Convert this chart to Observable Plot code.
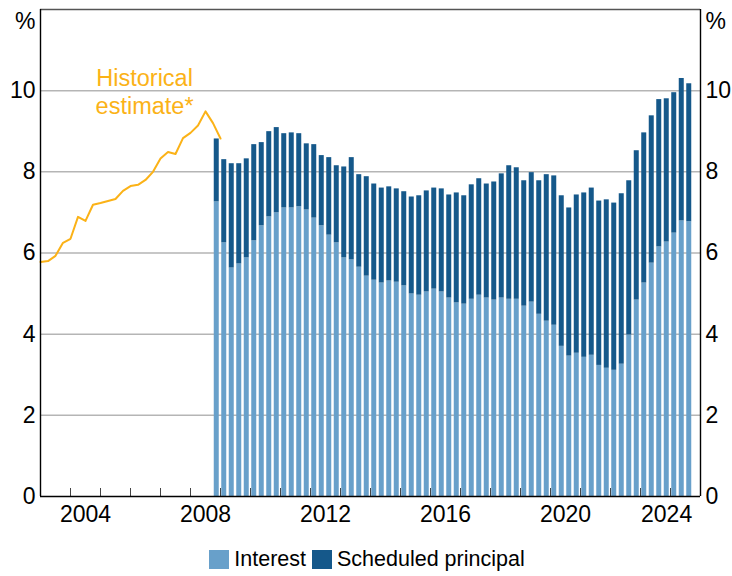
<!DOCTYPE html>
<html><head><meta charset="utf-8">
<script src="https://cdn.jsdelivr.net/npm/d3@7"></script>
<script src="https://cdn.jsdelivr.net/npm/@observablehq/plot@0.6"></script>
<style>
body{margin:0;background:#fff;font-family:"Liberation Sans",Arial,sans-serif;}
#legend{display:flex;justify-content:center;align-items:center;height:38px;font-size:21.5px;color:#000;padding-left:8px;box-sizing:border-box;width:732px}
.sw{width:20px;height:19px;display:inline-block;margin-right:5px}
.item{display:flex;align-items:center;margin-right:6px}
</style></head><body><div id="chart"></div><div id="legend"></div>
<script>
// Quarterly data, 2008 Q4 to 2024 Q3 (bars)
const barStart = {year: 2008, quarter: 4};
const interest = [7.26,6.25,5.63,5.73,5.88,6.30,6.67,6.89,6.99,7.11,7.11,7.14,7.06,6.86,6.67,6.44,
  6.25,5.88,5.83,5.65,5.43,5.33,5.26,5.31,5.28,5.19,4.99,4.96,5.04,5.11,5.04,4.89,
  4.77,4.74,4.86,4.96,4.89,4.84,4.89,4.86,4.86,4.69,4.79,4.49,4.32,4.22,3.70,3.46,
  3.53,3.43,3.48,3.23,3.16,3.11,3.26,3.98,4.84,5.26,5.75,6.15,6.27,6.49,6.79,6.77];
const total = [8.81,8.30,8.20,8.20,8.32,8.67,8.72,8.99,9.09,8.94,8.96,8.94,8.69,8.67,8.40,8.35,
  8.15,8.12,8.35,7.93,7.88,7.70,7.60,7.63,7.58,7.51,7.38,7.41,7.53,7.60,7.58,7.43,
  7.48,7.41,7.68,7.83,7.70,7.75,7.95,8.15,8.10,7.78,7.98,7.78,7.93,7.90,7.41,7.11,
  7.43,7.48,7.60,7.28,7.31,7.23,7.46,7.78,8.52,8.96,9.38,9.78,9.80,9.95,10.30,10.17];
// Historical estimate, 2002 Q4 to 2008 Q4 (line)
const histStart = {year: 2002, quarter: 4};
const historical = [5.78,5.80,5.93,6.25,6.35,6.89,6.79,7.19,7.23,7.28,7.33,7.53,7.65,7.68,7.80,8.00,
  8.33,8.49,8.44,8.83,8.96,9.14,9.49,9.20,8.82];
const yTicks = [0,2,4,6,8,10];
const xLabels = [2004,2008,2012,2016,2020,2024];
const seriesNames = ["Interest","Scheduled principal"];
const colors = {interest:"#68a0ca", principal:"#15588a", hist:"#fbb217"};

function quarterAt(start, i){
  const n = start.year*4 + (start.quarter-1) + i;
  return {year: Math.floor(n/4), quarter: n%4 + 1};
}
const bars = interest.map((v,i)=>{
  const q = quarterAt(barStart,i);
  return {label:`${q.year}-Q${q.quarter}`, t:q.year + (q.quarter-0.5)/4, interest:v, total:total[i]};
});
const hist = historical.map((v,i)=>{
  const q = quarterAt(histStart,i);
  return {label:`${q.year}-Q${q.quarter}`, t:q.year + q.quarter/4, value:v};
});
const xDomain = [2003, 2025];
const yearTicks = d3.range(xDomain[0], xDomain[1] + 1);
const half = 1/12;
// label positions: mid-year, kept inside the frame
const labelPos = xLabels.map(y => Math.min(y + 0.5, xDomain[1] - 1.13));
const labelMap = new Map(labelPos.map((p,i)=>[p, String(xLabels[i])]));

const chart = Plot.plot({
  width: 732, height: 540,
  marginTop: 9, marginLeft: 40, marginRight: 32, marginBottom: 44,
  style: {fontFamily: "'Liberation Sans', Arial, sans-serif", fontSize: "23px", color: "#000", background: "#fff"},
  x: {domain: xDomain, label: null},
  y: {domain: [0, 12], label: null},
  marks: [
    Plot.ruleY(yTicks.filter(d=>d>0), {stroke:"#b5b5b5", strokeWidth:1.5}),
    Plot.rect(bars, {x1:d=>d.t-half, x2:d=>d.t+half, y1:0, y2:"interest", fill:colors.interest}),
    Plot.rect(bars, {x1:d=>d.t-half, x2:d=>d.t+half, y1:"interest", y2:"total", fill:colors.principal}),
    Plot.line(hist, {x:"t", y:"value", stroke:colors.hist, strokeWidth:2}),
    Plot.text(["Historical\nestimate*"], {x:2006.47, y:10, fill:colors.hist, fontSize:23.5, lineHeight:1.2, textAnchor:"middle", lineAnchor:"middle"}),
    Plot.axisY({anchor:"left", ticks:yTicks, tickSize:0, tickPadding:5, label:null}),
    Plot.axisY({anchor:"right", ticks:yTicks, tickSize:0, tickPadding:5, label:null}),
    Plot.text(["%"], {frameAnchor:"top-left", dx:-5, dy:12, textAnchor:"end", lineAnchor:"middle"}),
    Plot.text(["%"], {frameAnchor:"top-right", dx:5, dy:12, textAnchor:"start", lineAnchor:"middle"}),
    Plot.axisX({ticks: yearTicks, tickSize: -8, tickFormat: ()=>"", stroke:"#444", label:null}),
    Plot.axisX({ticks: labelPos, tickSize: 0, tickPadding: 9, tickFormat: d=>labelMap.get(d), label:null}),
    Plot.ruleY([12], {stroke:"#555", strokeWidth:1.6}),
    Plot.ruleY([0], {stroke:"#000", strokeWidth:1.5}),
    Plot.ruleX(xDomain, {stroke:"#000", strokeWidth:1.4})
  ]
});
document.getElementById("chart").appendChild(chart);

const legend = document.getElementById("legend");
[[seriesNames[0], colors.interest],[seriesNames[1], colors.principal]].forEach(([name,c])=>{
  const it = document.createElement("div"); it.className="item";
  const sw = document.createElement("span"); sw.className="sw"; sw.style.background=c;
  const tx = document.createElement("span"); tx.textContent=name;
  it.appendChild(sw); it.appendChild(tx); legend.appendChild(it);
});
</script></body></html>
